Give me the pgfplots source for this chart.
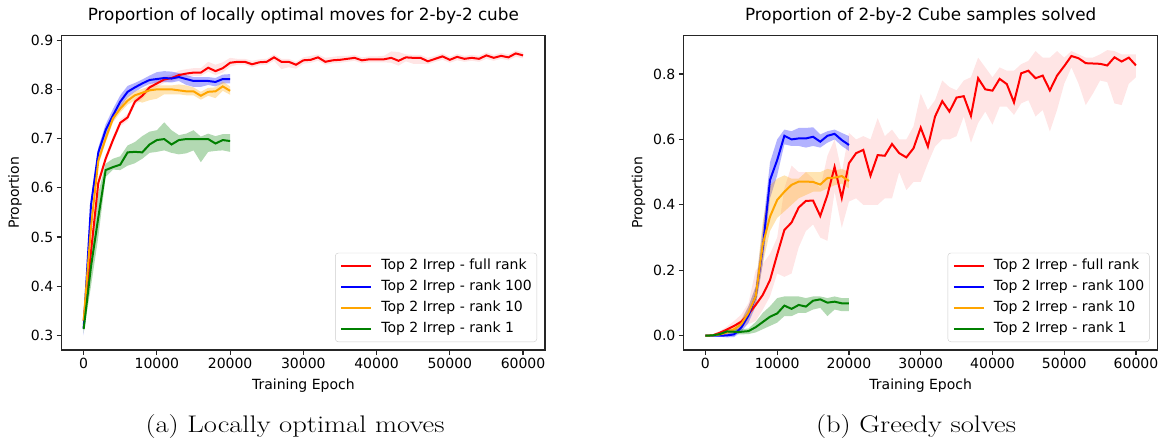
\documentclass[border=0pt]{standalone}
\usepackage{fontspec}
\newfontfamily\dejavu{DejaVu Sans}
\usepackage{pgfplots}
\usepackage{pgfplotstable}
\pgfplotsset{compat=1.18}
\usepgfplotslibrary{fillbetween}

\definecolor{mplred}{HTML}{FF0000}
\definecolor{mplblue}{HTML}{0000FF}
\definecolor{mplorange}{HTML}{FFA500}
\definecolor{mplgreen}{HTML}{008000}

\newcommand\plotfont{\dejavu\fontsize{14}{16.8}\selectfont}
\newcommand\titlefont{\dejavu\fontsize{16.8}{20}\selectfont}
\newcommand\capfont{\fontsize{24}{29}\selectfont}

% ---------- (a) locally optimal moves ----------
\pgfplotstableread{
x m lo hi
0 0.330 0.322 0.338
1000 0.470 0.460 0.480
2000 0.610 0.600 0.620
3000 0.659 0.651 0.667
4000 0.697 0.690 0.704
5000 0.732 0.725 0.739
6000 0.743 0.736 0.750
7000 0.775 0.768 0.782
8000 0.787 0.780 0.794
9000 0.804 0.797 0.811
10000 0.812 0.805 0.819
11000 0.820 0.813 0.827
12000 0.823 0.816 0.830
13000 0.829 0.822 0.838
14000 0.832 0.825 0.841
15000 0.834 0.827 0.843
16000 0.834 0.827 0.843
17000 0.844 0.836 0.856
18000 0.837 0.829 0.850
19000 0.843 0.834 0.855
20000 0.854 0.846 0.864
21000 0.856 0.850 0.862
22000 0.856 0.850 0.862
23000 0.851 0.845 0.858
24000 0.855 0.849 0.861
25000 0.856 0.850 0.862
26000 0.865 0.858 0.871
27000 0.856 0.841 0.862
28000 0.856 0.845 0.862
29000 0.850 0.842 0.856
30000 0.859 0.852 0.865
31000 0.860 0.854 0.868
32000 0.865 0.858 0.871
33000 0.856 0.850 0.864
34000 0.859 0.853 0.866
35000 0.860 0.854 0.868
36000 0.862 0.856 0.868
37000 0.864 0.858 0.870
38000 0.859 0.853 0.865
39000 0.861 0.855 0.867
40000 0.861 0.855 0.867
41000 0.861 0.855 0.868
42000 0.864 0.854 0.877
43000 0.858 0.848 0.876
44000 0.865 0.857 0.871
45000 0.864 0.852 0.870
46000 0.864 0.852 0.870
47000 0.857 0.851 0.864
48000 0.862 0.856 0.868
49000 0.867 0.860 0.873
50000 0.860 0.854 0.866
51000 0.866 0.859 0.872
52000 0.862 0.856 0.868
53000 0.864 0.858 0.870
54000 0.862 0.856 0.868
55000 0.869 0.862 0.875
56000 0.864 0.858 0.870
57000 0.868 0.862 0.874
58000 0.865 0.859 0.871
59000 0.873 0.866 0.879
60000 0.869 0.863 0.875
}\Ared

\pgfplotstableread{
x m lo hi
0 0.315 0.300 0.330
1000 0.565 0.553 0.577
2000 0.672 0.662 0.682
3000 0.717 0.705 0.729
4000 0.747 0.735 0.760
5000 0.775 0.763 0.788
6000 0.795 0.784 0.807
7000 0.804 0.795 0.813
8000 0.812 0.804 0.820
9000 0.819 0.811 0.828
10000 0.821 0.813 0.835
11000 0.823 0.815 0.837
12000 0.822 0.814 0.836
13000 0.825 0.817 0.833
14000 0.821 0.809 0.829
15000 0.817 0.805 0.825
16000 0.817 0.805 0.825
17000 0.817 0.809 0.825
18000 0.815 0.806 0.823
19000 0.821 0.812 0.830
20000 0.821 0.812 0.831
}\Ablue

\pgfplotstableread{
x m lo hi
0 0.330 0.320 0.340
1000 0.520 0.510 0.530
2000 0.655 0.646 0.664
3000 0.700 0.692 0.708
4000 0.741 0.733 0.749
5000 0.761 0.753 0.769
6000 0.777 0.769 0.785
7000 0.788 0.778 0.796
8000 0.793 0.773 0.801
9000 0.798 0.778 0.806
10000 0.800 0.781 0.808
11000 0.800 0.790 0.808
12000 0.800 0.790 0.808
13000 0.798 0.790 0.810
14000 0.796 0.788 0.808
15000 0.796 0.788 0.804
16000 0.787 0.779 0.795
17000 0.795 0.787 0.803
18000 0.796 0.782 0.804
19000 0.806 0.797 0.816
20000 0.797 0.789 0.806
}\Aorange

\pgfplotstableread{
x m lo hi
0 0.313 0.305 0.320
1000 0.440 0.400 0.480
2000 0.540 0.500 0.590
3000 0.636 0.622 0.649
4000 0.642 0.637 0.659
5000 0.647 0.636 0.664
6000 0.672 0.645 0.686
7000 0.673 0.650 0.693
8000 0.672 0.659 0.705
9000 0.688 0.671 0.714
10000 0.697 0.673 0.717
11000 0.699 0.676 0.733
12000 0.688 0.671 0.717
13000 0.697 0.668 0.707
14000 0.699 0.670 0.710
15000 0.699 0.676 0.717
16000 0.699 0.652 0.704
17000 0.699 0.673 0.710
18000 0.690 0.675 0.705
19000 0.697 0.676 0.709
20000 0.695 0.673 0.709
}\Agreen

% ---------- (b) greedy solves ----------
\pgfplotstableread{
x m lo hi
0 0.000 0.000 0.002
1000 0.001 0.000 0.004
2000 0.009 0.004 0.014
3000 0.019 0.010 0.028
4000 0.030 0.015 0.045
5000 0.043 0.022 0.065
6000 0.066 0.035 0.100
7000 0.094 0.045 0.200
8000 0.125 0.080 0.220
9000 0.170 0.120 0.250
10000 0.248 0.190 0.300
11000 0.323 0.180 0.450
12000 0.346 0.190 0.520
13000 0.392 0.270 0.500
14000 0.412 0.320 0.500
15000 0.413 0.340 0.480
16000 0.366 0.300 0.450
17000 0.430 0.290 0.550
18000 0.516 0.440 0.600
19000 0.421 0.330 0.500
20000 0.527 0.410 0.620
21000 0.558 0.420 0.600
22000 0.568 0.400 0.610
23000 0.489 0.400 0.600
24000 0.552 0.400 0.665
25000 0.550 0.420 0.610
26000 0.586 0.420 0.630
27000 0.558 0.500 0.600
28000 0.545 0.445 0.600
29000 0.573 0.470 0.640
30000 0.636 0.470 0.740
31000 0.578 0.527 0.690
32000 0.670 0.578 0.720
33000 0.717 0.600 0.780
34000 0.685 0.600 0.760
35000 0.728 0.610 0.750
36000 0.732 0.670 0.780
37000 0.672 0.590 0.790
38000 0.787 0.650 0.850
39000 0.753 0.685 0.820
40000 0.749 0.645 0.790
41000 0.785 0.700 0.820
42000 0.769 0.700 0.810
43000 0.713 0.675 0.810
44000 0.802 0.710 0.830
45000 0.810 0.720 0.840
46000 0.787 0.670 0.870
47000 0.795 0.690 0.850
48000 0.750 0.624 0.850
49000 0.795 0.690 0.870
50000 0.824 0.770 0.850
51000 0.855 0.820 0.870
52000 0.848 0.770 0.860
53000 0.833 0.705 0.850
54000 0.832 0.740 0.850
55000 0.831 0.780 0.860
56000 0.826 0.775 0.873
57000 0.851 0.710 0.870
58000 0.838 0.705 0.860
59000 0.850 0.770 0.860
60000 0.826 0.790 0.860
}\Bred

\pgfplotstableread{
x m lo hi
0 0.000 0.000 0.002
1000 0.000 0.000 0.002
2000 0.000 -0.003 0.006
3000 0.001 -0.005 0.012
4000 0.004 -0.004 0.020
5000 0.025 0.012 0.045
6000 0.062 0.040 0.090
7000 0.120 0.090 0.150
8000 0.270 0.220 0.330
9000 0.476 0.420 0.530
10000 0.537 0.490 0.600
11000 0.611 0.585 0.630
12000 0.600 0.580 0.625
13000 0.603 0.580 0.635
14000 0.603 0.575 0.635
15000 0.608 0.580 0.637
16000 0.593 0.575 0.615
17000 0.611 0.590 0.625
18000 0.617 0.600 0.630
19000 0.598 0.580 0.620
20000 0.583 0.565 0.610
}\Bblue

\pgfplotstableread{
x m lo hi
0 0.000 0.000 0.002
1000 0.001 0.000 0.003
2000 0.004 0.000 0.010
3000 0.010 0.004 0.018
4000 0.020 0.010 0.030
5000 0.035 0.020 0.050
6000 0.070 0.050 0.090
7000 0.120 0.090 0.150
8000 0.280 0.220 0.350
9000 0.364 0.320 0.460
10000 0.415 0.360 0.480
11000 0.440 0.380 0.490
12000 0.461 0.400 0.480
13000 0.471 0.420 0.480
14000 0.471 0.430 0.500
15000 0.470 0.440 0.500
16000 0.462 0.440 0.500
17000 0.482 0.450 0.510
18000 0.483 0.460 0.505
19000 0.488 0.465 0.510
20000 0.473 0.450 0.500
}\Borange

\pgfplotstableread{
x m lo hi
0 0.000 0.000 0.002
1000 0.001 0.000 0.004
2000 0.005 0.002 0.010
3000 0.013 0.008 0.020
4000 0.012 0.005 0.020
5000 0.012 0.004 0.020
6000 0.014 0.005 0.022
7000 0.026 0.010 0.042
8000 0.042 0.020 0.070
9000 0.058 0.030 0.090
10000 0.068 0.040 0.115
11000 0.092 0.060 0.120
12000 0.082 0.060 0.120
13000 0.094 0.070 0.120
14000 0.089 0.070 0.115
15000 0.107 0.080 0.120
16000 0.111 0.085 0.120
17000 0.101 0.060 0.115
18000 0.104 0.080 0.120
19000 0.099 0.075 0.115
20000 0.099 0.075 0.115
}\Bgreen

\pgfplotsset{
  mplstyle/.style={
    scale only axis,
    height=314.3pt,
    xmin=-3000, xmax=63000,
    xtick={0,10000,20000,30000,40000,50000,60000},
    scaled x ticks=false,
    tick align=outside,
    xtick pos=left, ytick pos=left,
    major tick length=5pt,
    axis line style={black!85, line width=1.1pt},
    every tick/.style={black!85, line width=1.1pt},
    ticklabel style={font=\plotfont},
    /pgf/number format/assume math mode=true,
    /pgf/number format/1000 sep={},
    yticklabel style={/pgf/number format/.cd, fixed, fixed zerofill, precision=1},
    title style={font=\titlefont, anchor=base, at={(0.5,1)}, yshift=9pt},
    xlabel style={font=\plotfont, anchor=base, at={(0.5,0)}, yshift=-39pt},
    ylabel style={font=\plotfont, anchor=center},
    xlabel={Training Epoch},
    ylabel={Proportion},
    legend cell align=left,
    legend image code/.code={\draw[#1, line width=2pt] (0pt,0pt) -- (30pt,0pt);},
    legend style={at={(1,0)}, anchor=south east, xshift=-8pt, yshift=8pt,
      draw=black!20, rounded corners=3pt, fill=white, fill opacity=0.8, text opacity=1,
      font=\plotfont, inner xsep=5pt, inner ysep=6pt, row sep=7.6pt, column sep=9pt,
      nodes={inner sep=0pt, text height=10.5pt, text depth=3pt}},
  },
  bandline/.style={draw=none, forget plot},
  meanline/.style={no marks, line width=2pt},
}

\begin{document}
\begin{tikzpicture}

\begin{axis}[mplstyle,
  at={(61.7pt,-350pt)}, anchor=south west,
  width=483.3pt,
  ymin=0.2705, ymax=0.909,
  ytick={0.3,0.4,0.5,0.6,0.7,0.8,0.9},
  ylabel style={at={(axis description cs:-0.0966,0.5)}},
  title={Proportion of locally optimal moves for 2-by-2 cube},
]
\addplot[bandline, name path=arh] table[x=x, y=hi]{\Ared};
\addplot[bandline, name path=arl] table[x=x, y=lo]{\Ared};
\addplot[mplred, fill opacity=0.1, draw=none, forget plot] fill between[of=arh and arl];
\addplot[bandline, name path=abh] table[x=x, y=hi]{\Ablue};
\addplot[bandline, name path=abl] table[x=x, y=lo]{\Ablue};
\addplot[mplblue, fill opacity=0.3, draw=none, forget plot] fill between[of=abh and abl];
\addplot[bandline, name path=aoh] table[x=x, y=hi]{\Aorange};
\addplot[bandline, name path=aol] table[x=x, y=lo]{\Aorange};
\addplot[mplorange, fill opacity=0.3, draw=none, forget plot] fill between[of=aoh and aol];
\addplot[bandline, name path=agh] table[x=x, y=hi]{\Agreen};
\addplot[bandline, name path=agl] table[x=x, y=lo]{\Agreen};
\addplot[mplgreen, fill opacity=0.3, draw=none, forget plot] fill between[of=agh and agl];

\addplot[meanline, mplred] table[x=x, y=m]{\Ared};
\addlegendentry{Top 2 Irrep - full rank}
\addplot[meanline, mplblue] table[x=x, y=m]{\Ablue};
\addlegendentry{Top 2 Irrep - rank 100}
\addplot[meanline, mplorange] table[x=x, y=m]{\Aorange};
\addlegendentry{Top 2 Irrep - rank 10}
\addplot[meanline, mplgreen] table[x=x, y=m]{\Agreen};
\addlegendentry{Top 2 Irrep - rank 1}
\end{axis}

\begin{axis}[mplstyle,
  at={(683.9pt,-350pt)}, anchor=south west,
  width=473.6pt,
  ymin=-0.0437, ymax=0.917,
  ytick={0,0.2,0.4,0.6,0.8},
  ylabel style={at={(axis description cs:-0.0957,0.5)}},
  title={Proportion of 2-by-2 Cube samples solved},
]
\addplot[bandline, name path=brh] table[x=x, y=hi]{\Bred};
\addplot[bandline, name path=brl] table[x=x, y=lo]{\Bred};
\addplot[mplred, fill opacity=0.1, draw=none, forget plot] fill between[of=brh and brl];
\addplot[bandline, name path=bbh] table[x=x, y=hi]{\Bblue};
\addplot[bandline, name path=bbl] table[x=x, y=lo]{\Bblue};
\addplot[mplblue, fill opacity=0.3, draw=none, forget plot] fill between[of=bbh and bbl];
\addplot[bandline, name path=boh] table[x=x, y=hi]{\Borange};
\addplot[bandline, name path=bol] table[x=x, y=lo]{\Borange};
\addplot[mplorange, fill opacity=0.3, draw=none, forget plot] fill between[of=boh and bol];
\addplot[bandline, name path=bgh] table[x=x, y=hi]{\Bgreen};
\addplot[bandline, name path=bgl] table[x=x, y=lo]{\Bgreen};
\addplot[mplgreen, fill opacity=0.3, draw=none, forget plot] fill between[of=bgh and bgl];

\addplot[meanline, mplred] table[x=x, y=m]{\Bred};
\addlegendentry{Top 2 Irrep - full rank}
\addplot[meanline, mplblue] table[x=x, y=m]{\Bblue};
\addlegendentry{Top 2 Irrep - rank 100}
\addplot[meanline, mplorange] table[x=x, y=m]{\Borange};
\addlegendentry{Top 2 Irrep - rank 10}
\addplot[meanline, mplgreen] table[x=x, y=m]{\Bgreen};
\addlegendentry{Top 2 Irrep - rank 1}
\end{axis}

% sub-captions
\node[anchor=base, font=\capfont] at (295pt,-432pt) {\scalebox{1.19}[1]{(a) Locally optimal moves}};
\node[anchor=base, font=\capfont] at (916pt,-432pt) {\scalebox{1.19}[1]{(b) Greedy solves}};
\path (0pt,-440pt) rectangle (1172pt,0pt);
\end{tikzpicture}
\end{document}
